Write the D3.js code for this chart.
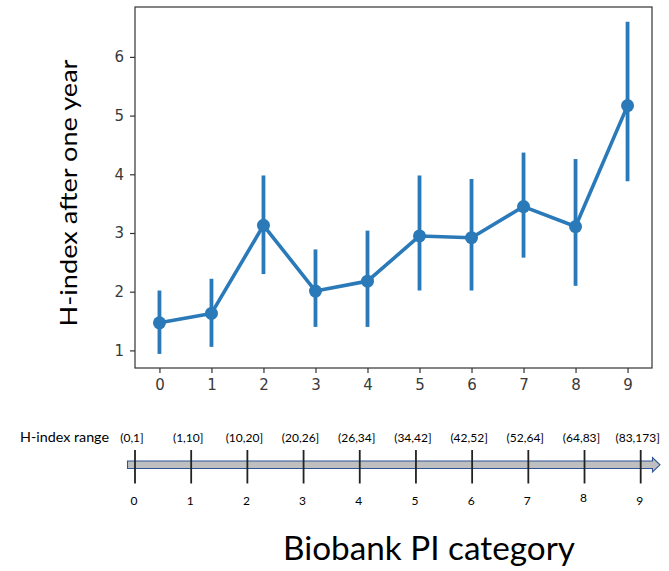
<!DOCTYPE html>
<html><head><meta charset="utf-8">
<script src="https://cdn.jsdelivr.net/npm/d3@7"></script>
<style>html,body{margin:0;padding:0;background:#fff;}</style>
</head><body>
<svg id="chart" width="669" height="571"></svg>
<script>
const categories = [0,1,2,3,4,5,6,7,8,9];
const means = [1.47,1.63,3.13,2.01,2.18,2.95,2.92,3.45,3.11,5.17];
const ciLow = [0.94,1.06,2.30,1.40,1.40,2.02,2.02,2.58,2.10,3.88];
const ciHigh = [2.02,2.22,3.98,2.72,3.04,3.98,3.92,4.37,4.26,6.60];
const yTicks = [1,2,3,4,5,6];
const rangeLabels = ["(0,1]","(1,10]","(10,20]","(20,26]","(26,34]","(34,42]","(42,52]","(52,64]","(64,83]","(83,173]"];

const svg = d3.select("#chart");
const blue = "#2a7ab9";
const L = 135, R = 652, T = 7, B = 368;
const x = d3.scaleLinear().domain([-0.47, 9.47]).range([L, R]);
const y = d3.scaleLinear().domain([0.70, 6.85]).range([B, T]);

// frame
svg.append("rect").attr("x", L).attr("y", T).attr("width", R-L).attr("height", B-T)
  .attr("fill","none").attr("stroke","#333").attr("stroke-width",1.2);

const xAxis = svg.append("g").attr("transform",`translate(0,${B})`)
  .call(d3.axisBottom(x).tickValues(categories).tickSize(5).tickPadding(6).tickFormat(d3.format("d")));
const yAxis = svg.append("g").attr("transform",`translate(${L},0)`)
  .call(d3.axisLeft(y).tickValues(yTicks).tickSize(5).tickPadding(6).tickFormat(d3.format("d")));
[xAxis,yAxis].forEach(a=>{
  a.select(".domain").remove();
  a.selectAll("line").attr("stroke","#333").attr("stroke-width",1.2);
  a.selectAll("text").attr("fill","#3a3a3a").style("font-family","DejaVu Sans").style("font-size","15px");
});

// error bars
svg.append("g").selectAll("line").data(categories).join("line")
  .attr("x1",d=>x(d)).attr("x2",d=>x(d))
  .attr("y1",(d,i)=>y(ciLow[i])).attr("y2",(d,i)=>y(ciHigh[i]))
  .attr("stroke",blue).attr("stroke-width",3.8);

// line
svg.append("path").datum(categories)
  .attr("d", d3.line().x(d=>x(d)).y((d,i)=>y(means[i])))
  .attr("fill","none").attr("stroke",blue).attr("stroke-width",3.6).attr("stroke-linejoin","round");

// points
svg.append("g").selectAll("circle").data(categories).join("circle")
  .attr("cx",d=>x(d)).attr("cy",(d,i)=>y(means[i])).attr("r",6.5).attr("fill",blue);

// y title
svg.append("text").attr("transform",`translate(77,193) rotate(-90)`)
  .attr("text-anchor","middle").style("font-family","Lato").style("font-size","24px")
  .attr("textLength",267).attr("lengthAdjust","spacingAndGlyphs")
  .attr("fill","#000").text("H-index after one year");

// bottom range axis
const xb = d3.scaleLinear().domain([0,9]).range([135, 640.7]);
svg.append("text").attr("x",20).attr("y",442).style("font-family","Lato").style("font-size","14px")
  .attr("textLength",89).attr("lengthAdjust","spacingAndGlyphs")
  .attr("fill","#000").text("H-index range");

// arrow bar
const barTop = 461, barBot = 468.5;
svg.append("path")
  .attr("d",`M127.5,${barTop} L652.5,${barTop} L652.5,457.5 L660,464.8 L652.5,472 L652.5,${barBot} L127.5,${barBot} Z`)
  .attr("fill","#bfbfbf").attr("stroke","#2f5597").attr("stroke-width",1.1);

svg.append("g").selectAll("line").data(categories).join("line")
  .attr("x1",d=>xb(d)).attr("x2",d=>xb(d)).attr("y1",450).attr("y2",483.5)
  .attr("stroke","#222").attr("stroke-width",1.8);

svg.append("g").selectAll("text").data(rangeLabels).join("text")
  .attr("x",(d,i)=>xb(i)-3).attr("y",442).attr("text-anchor","middle")
  .style("font-family","Lato").style("font-size","12px").attr("fill","#000").text(d=>d);

svg.append("g").selectAll("text").data(categories).join("text")
  .attr("x",d=>xb(d)-1).attr("y",(d)=>d===8?502:505).attr("text-anchor","middle")
  .style("font-family","Lato").style("font-size","12px").attr("fill","#000").text(d=>d);

svg.append("text").attr("x",283).attr("y",559.5)
  .style("font-family","Lato").style("font-size","33px")
  .attr("textLength",292).attr("lengthAdjust","spacingAndGlyphs")
  .attr("fill","#000").text("Biobank PI category");
</script>
</body></html>
